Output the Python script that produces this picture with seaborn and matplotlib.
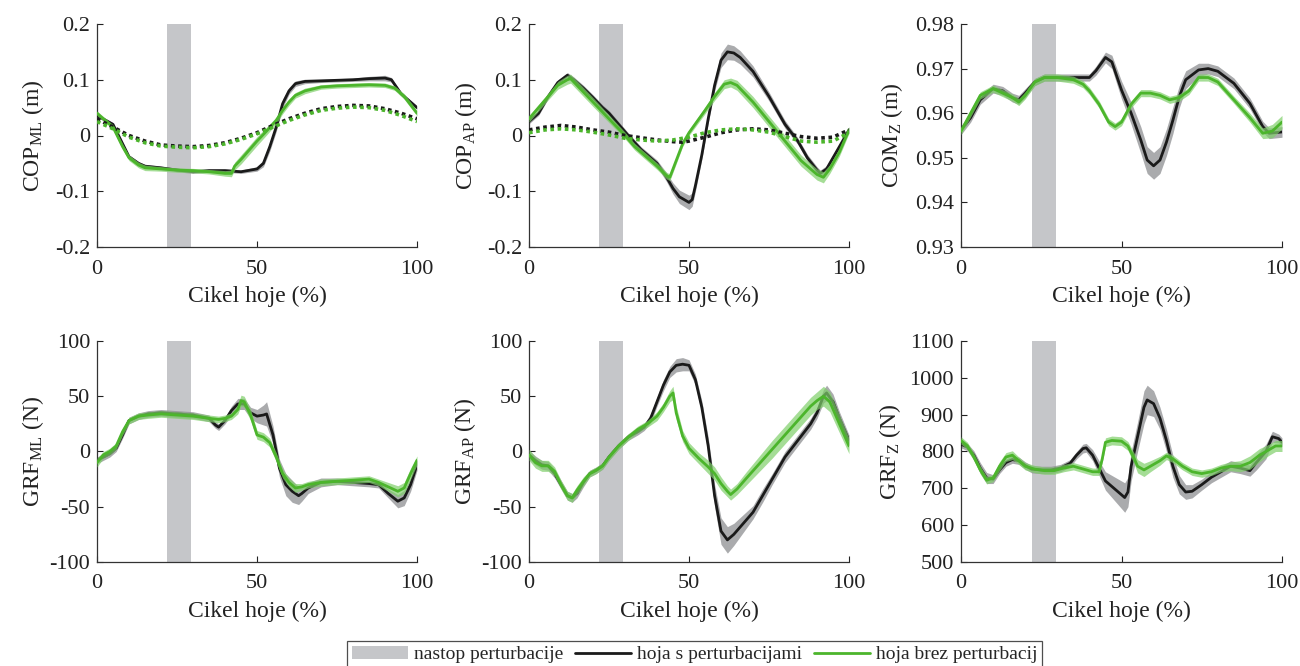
import numpy as np
import matplotlib
matplotlib.use("Agg")
import matplotlib.pyplot as plt
import seaborn as sns
from matplotlib.patches import Patch
from matplotlib.lines import Line2D

# ---------------- data ----------------
pert_start, pert_end = 22, 29.5

# COP ML
copml_px = [0,5,10,13,15,20,25,30,35,40,45,50,52,54,56,58,60,62,65,70,75,80,85,90,92,95,100]
copml_p = [0.036,0.02,-0.038,-0.05,-0.055,-0.058,-0.062,-0.065,-0.063,-0.063,-0.065,-0.06,-0.05,-0.02,0.015,0.057,0.08,0.093,0.097,0.098,0.099,0.1,0.102,0.103,0.1,0.075,0.05]
copml_p_sd = [0.003,0.003,0.003,0.003,0.003,0.003,0.003,0.003,0.003,0.003,0.003,0.004,0.006,0.008,0.008,0.008,0.006,0.005,0.004,0.003,0.003,0.003,0.004,0.005,0.004,0.003,0.003]
copml_nx = [0,5,8,10,13,15,20,25,30,35,40,42,43,45,50,53,56,58,60,62,65,70,75,80,85,90,93,96,100]
copml_n = [0.04,0.015,-0.02,-0.04,-0.053,-0.058,-0.06,-0.062,-0.063,-0.065,-0.068,-0.068,-0.055,-0.043,-0.01,0.008,0.027,0.045,0.06,0.072,0.08,0.087,0.089,0.09,0.091,0.09,0.085,0.07,0.04]
copml_n_sd = [0.004,0.004,0.005,0.005,0.005,0.005,0.004,0.004,0.004,0.004,0.005,0.006,0.007,0.008,0.008,0.007,0.006,0.006,0.006,0.005,0.005,0.004,0.004,0.004,0.004,0.004,0.004,0.005,0.005]
copml_dx = [0,5,10,15,20,25,30,35,40,45,50,55,60,65,70,75,80,85,90,95,100]
copml_dp = [0.03,0.015,0.0,-0.01,-0.017,-0.019,-0.02,-0.018,-0.013,-0.005,0.005,0.018,0.03,0.04,0.048,0.052,0.054,0.053,0.048,0.04,0.03]
copml_dn = [0.025,0.012,-0.003,-0.013,-0.019,-0.021,-0.022,-0.02,-0.015,-0.007,0.003,0.015,0.027,0.037,0.045,0.049,0.051,0.05,0.045,0.036,0.025]

# COP AP
copap_px = [0,3,6,9,12,14,17,20,23,25,28,31,35,40,43,45,47,50,51,52,54,56,58,60,62,64,66,70,75,80,84,87,90,91,93,96,100]
copap_p = [0.025,0.04,0.07,0.095,0.108,0.1,0.085,0.068,0.05,0.04,0.02,0.0,-0.025,-0.05,-0.075,-0.095,-0.11,-0.12,-0.115,-0.09,-0.035,0.03,0.09,0.135,0.15,0.148,0.14,0.115,0.07,0.02,-0.01,-0.04,-0.062,-0.068,-0.06,-0.03,0.01]
copap_p_sd = [0.004,0.004,0.004,0.005,0.005,0.005,0.005,0.005,0.005,0.005,0.005,0.005,0.005,0.006,0.008,0.01,0.012,0.013,0.012,0.01,0.008,0.008,0.01,0.013,0.014,0.013,0.012,0.01,0.008,0.007,0.006,0.006,0.006,0.006,0.006,0.005,0.005]
copap_nx = [0,3,6,9,12,13,15,20,25,30,33,35,40,43,44,45,48,50,55,58,61,63,65,70,75,80,85,90,92,94,97,100]
copap_n = [0.03,0.05,0.07,0.09,0.1,0.102,0.09,0.06,0.03,0.0,-0.02,-0.03,-0.055,-0.072,-0.075,-0.06,-0.015,0.005,0.045,0.07,0.092,0.095,0.09,0.06,0.025,-0.01,-0.045,-0.07,-0.075,-0.06,-0.03,0.01]
copap_n_sd = [0.006,0.006,0.006,0.007,0.008,0.008,0.008,0.008,0.007,0.006,0.006,0.006,0.006,0.006,0.006,0.006,0.005,0.005,0.006,0.007,0.008,0.008,0.009,0.01,0.01,0.01,0.01,0.01,0.01,0.008,0.007,0.006]
copap_dx = [0,5,10,15,20,25,30,35,40,45,48,50,55,60,65,70,75,80,85,90,95,100]
copap_dp = [0.01,0.015,0.018,0.015,0.01,0.006,0.0,-0.004,-0.008,-0.011,-0.012,-0.01,-0.003,0.005,0.01,0.012,0.01,0.004,-0.002,-0.005,-0.003,0.01]
copap_dn = [0.005,0.01,0.012,0.01,0.006,0.001,-0.005,-0.008,-0.01,-0.008,-0.005,-0.003,0.005,0.01,0.012,0.01,0.006,-0.002,-0.01,-0.012,-0.01,0.005]

# COM Z
comz_px = [0,3,6,10,13,16,18,20,23,26,30,35,40,42,45,47,50,53,56,58,60,62,64,66,68,70,74,77,80,85,90,94,96,100]
comz_p = [0.9562,0.959,0.963,0.9655,0.965,0.9635,0.963,0.9645,0.967,0.968,0.968,0.968,0.968,0.9695,0.9725,0.9715,0.9652,0.96,0.954,0.9495,0.9482,0.9495,0.9535,0.9584,0.9637,0.9675,0.9697,0.97,0.9694,0.9667,0.9622,0.957,0.9555,0.9558]
comz_p_sd = [0.001,0.001,0.001,0.001,0.001,0.001,0.001,0.001,0.0008,0.0008,0.0008,0.0008,0.0008,0.001,0.0012,0.0015,0.002,0.0025,0.003,0.003,0.003,0.003,0.003,0.003,0.0025,0.002,0.0015,0.0012,0.0012,0.0012,0.0012,0.0012,0.0012,0.0012]
comz_nx = [0,3,6,10,13,16,18,20,23,26,30,35,38,40,43,46,48,50,53,56,59,62,65,68,71,74,77,80,85,90,94,97,100]
comz_n = [0.956,0.96,0.964,0.9655,0.9645,0.9635,0.9625,0.964,0.967,0.968,0.968,0.9675,0.9665,0.965,0.962,0.958,0.957,0.958,0.962,0.9645,0.9645,0.964,0.963,0.9635,0.965,0.968,0.968,0.967,0.963,0.959,0.9555,0.956,0.958]
comz_n_sd = [0.0008,0.0008,0.0008,0.0008,0.0008,0.0008,0.0008,0.0008,0.0008,0.0008,0.0008,0.0008,0.0008,0.0008,0.0008,0.0008,0.0008,0.0008,0.0008,0.0008,0.0008,0.0008,0.0008,0.0008,0.0008,0.0008,0.0008,0.0008,0.0008,0.001,0.0012,0.0015,0.0015]

# GRF ML
grfml_px = [0,2,4,6,8,10,13,16,20,25,30,35,37,38,40,42,44,46,48,50,52,53,55,57,59,61,63,64,66,70,75,80,85,88,91,94,96,98,100]
grfml_p = [-8,-5,-2,3,15,28,32,34,35,34,33,30,24,22,28,37,43,43,35,32,33,34,15,-15,-30,-36,-40,-38,-33,-28,-27,-28,-29,-30,-38,-45,-42,-30,-12]
grfml_p_sd = [3,3,3,3,3,3,3,3,3,3,3,3,3,3,3,4,5,5,5,6,9,11,8,8,10,10,8,7,5,4,3,3,3,3,4,6,7,6,5]
grfml_nx = [0,2,4,6,8,10,13,16,20,25,30,35,38,40,42,44,45,46,48,50,52,54,56,58,60,62,64,66,70,75,80,85,88,91,94,96,98,100]
grfml_n = [-10,-3,0,5,18,28,32,33,34,33,32,30,29,30,32,38,46,45,33,15,13,8,-5,-20,-28,-33,-32,-30,-28,-27,-26,-25,-28,-32,-36,-33,-20,-8]
grfml_n_sd = [4,3,3,3,3,3,3,3,3,3,3,3,3,3,3,4,5,5,5,4,4,4,4,4,4,4,3,3,3,3,3,3,3,4,5,5,5,4]

# GRF AP
grfap_px = [0,2,4,6,8,10,12,13.5,15,17,19,21,23,25,28,31,34,36,38,40,42,44,46,48,50,52,54,56,58,60,62,64,67,70,73,76,80,84,88,90,92,93,95,97,100]
grfap_p = [-3,-8,-12,-13,-20,-30,-40,-42,-38,-28,-20,-17,-13,-5,5,13,18,22,30,45,60,72,78,79,78,65,40,5,-40,-72,-80,-75,-65,-55,-40,-25,-5,10,25,35,50,53,45,30,10]
grfap_p_sd = [4,4,4,4,4,4,4,4,4,4,3,3,3,3,3,3,3,3,4,4,5,5,6,6,5,5,6,8,10,12,12,10,8,6,6,5,5,5,5,5,6,7,7,6,5]
grfap_nx = [0,2,4,6,8,10,12,13.5,15,17,19,21,23,25,28,31,34,37,40,42,44,45,46,48,50,53,56,58,60,62,63,65,68,72,76,80,84,88,90,92,94,97,100]
grfap_n = [-3,-10,-13,-13,-18,-30,-40,-42,-35,-27,-20,-17,-13,-5,5,13,20,25,32,40,50,53,35,14,3,-6,-14,-20,-29,-36,-39,-34,-24,-11,2,15,28,41,46,50,45,25,5]
grfap_n_sd = [5,5,5,5,4,4,4,4,4,4,3,3,3,3,3,3,3,3,4,4,5,6,6,5,5,5,6,6,6,5,5,5,6,7,8,8,8,8,8,9,9,8,7]

# GRF Z
grfz_px = [0,2,4,6,8,10,12,14,16,18,20,22,25,28,31,34,36,38,39,41,43,45,47,49,51,52,53,55,57,58,60,62,64,66,68,70,72,75,78,81,84,87,90,92,95,97,99,100]
grfz_p = [820,812,790,755,728,725,750,770,778,775,762,752,750,750,755,768,790,808,810,790,755,720,705,690,675,690,760,840,920,940,930,890,830,760,710,690,692,710,730,745,760,755,748,770,800,840,835,825]
grfz_p_sd = [10,10,12,15,15,12,10,10,10,10,10,10,10,10,10,10,10,12,12,15,20,25,30,35,40,40,40,40,45,40,35,30,30,30,25,20,18,15,15,15,15,15,15,20,20,15,12,12]
grfz_nx = [0,2,4,6,8,10,12,14,16,18,20,23,26,29,32,35,37,39,41,43,44,45,47,50,52,54,55,57,59,62,64,66,69,72,75,78,81,84,87,90,93,96,98,100]
grfz_n = [830,815,785,750,722,728,760,785,790,775,760,752,748,748,755,760,755,750,745,745,780,825,830,828,815,780,760,750,760,775,788,780,760,745,740,745,755,760,760,770,790,805,815,815]
grfz_n_sd = [10,10,10,10,10,10,12,12,12,10,10,10,10,10,10,10,10,10,10,10,10,12,12,12,12,15,18,18,15,12,10,10,10,10,10,10,10,12,15,18,18,15,15,15]

ylabels = ['COP$_{ML}$ (m)', 'COP$_{AP}$ (m)', 'COM$_{Z}$ (m)',
           'GRF$_{ML}$ (N)', 'GRF$_{AP}$ (N)', 'GRF$_{Z}$ (N)']
yticks_list = [[-0.2, -0.1, 0, 0.1, 0.2], [-0.2, -0.1, 0, 0.1, 0.2],
               [0.93, 0.94, 0.95, 0.96, 0.97, 0.98],
               [-100, -50, 0, 50, 100], [-100, -50, 0, 50, 100],
               [500, 600, 700, 800, 900, 1000, 1100]]
yticklabels_list = [['-0.2', '-0.1', '0', '0.1', '0.2'], ['-0.2', '-0.1', '0', '0.1', '0.2'],
                    ['0.93', '0.94', '0.95', '0.96', '0.97', '0.98'],
                    ['-100', '-50', '0', '50', '100'], ['-100', '-50', '0', '50', '100'],
                    ['500', '600', '700', '800', '900', '1000', '1100']]
xticks = [0, 50, 100]
xlabel = 'Cikel hoje (%)'
legend_labels = ['nastop perturbacije', 'hoja s perturbacijami', 'hoja brez perturbacij']

# ---------------- style ----------------
sns.set_theme(style='white')
plt.rcParams['font.family'] = ['Liberation Serif', 'DejaVu Serif']
plt.rcParams['mathtext.default'] = 'regular'
plt.rcParams['axes.unicode_minus'] = False

BLACK = '#1a1a1a'
GREEN = '#4cb52c'
BAND_BLACK = '#8e8f92'
BAND_GREEN = '#7fcf6a'
PERT = '#c5c6c9'

fig = plt.figure(figsize=(13, 6.66), dpi=100)
W, H = 1300, 666
cols = [(97, 417), (529, 849), (961, 1282)]
rows = [(24, 247), (341, 562)]

panels = [
    (copml_px, copml_p, copml_p_sd, copml_nx, copml_n, copml_n_sd, (copml_dx, copml_dp, copml_dn)),
    (copap_px, copap_p, copap_p_sd, copap_nx, copap_n, copap_n_sd, (copap_dx, copap_dp, copap_dn)),
    (comz_px, comz_p, comz_p_sd, comz_nx, comz_n, comz_n_sd, None),
    (grfml_px, grfml_p, grfml_p_sd, grfml_nx, grfml_n, grfml_n_sd, None),
    (grfap_px, grfap_p, grfap_p_sd, grfap_nx, grfap_n, grfap_n_sd, None),
    (grfz_px, grfz_p, grfz_p_sd, grfz_nx, grfz_n, grfz_n_sd, None),
]
ylabel_x = [-0.16, -0.155, -0.175, -0.16, -0.16, -0.18]

for i, (px, p, psd, nx, n, nsd, dotted) in enumerate(panels):
    r, c = divmod(i, 3)
    x0, x1 = cols[c]
    yt, yb = rows[r]
    ax = fig.add_axes([x0 / W, 1 - yb / H, (x1 - x0) / W, (yb - yt) / H])
    yt_vals = yticks_list[i]
    ax.axvspan(pert_start, pert_end, color=PERT, lw=0, zorder=1)

    px_a, p_a, psd_a = np.array(px), np.array(p), np.array(psd)
    nx_a, n_a, nsd_a = np.array(nx), np.array(n), np.array(nsd)
    ax.fill_between(px_a, p_a - psd_a, p_a + psd_a, color=BAND_BLACK, alpha=0.75, lw=0, zorder=2)
    sns.lineplot(x=px_a, y=p_a, ax=ax, color=BLACK, linewidth=2.0, zorder=3)
    ax.fill_between(nx_a, n_a - nsd_a, n_a + nsd_a, color=BAND_GREEN, alpha=0.7, lw=0, zorder=4)
    sns.lineplot(x=nx_a, y=n_a, ax=ax, color=GREEN, linewidth=2.0, zorder=5)
    if dotted is not None:
        dx, dp, dn = dotted
        sns.lineplot(x=dx, y=dp, ax=ax, color=BLACK, linewidth=2.6, linestyle=(0, (1, 1)), zorder=6)
        sns.lineplot(x=dx, y=dn, ax=ax, color=GREEN, linewidth=2.6, linestyle=(0, (1, 1)), zorder=6)

    ax.set_xlim(0, 100)
    ax.set_ylim(yt_vals[0], yt_vals[-1])
    ax.set_xticks(xticks)
    ax.set_xticklabels([str(t) for t in xticks])
    ax.set_yticks(yt_vals)
    ax.set_yticklabels(yticklabels_list[i])
    ax.tick_params(direction='in', length=4, width=0.8, colors='#222222', labelsize=16,
                   pad=6, left=True, bottom=True)
    ax.tick_params(axis='x', pad=9)
    ax.tick_params(axis='y', pad=5)
    for s in ['top', 'right']:
        ax.spines[s].set_visible(False)
    for s in ['left', 'bottom']:
        ax.spines[s].set_color('#333333')
        ax.spines[s].set_linewidth(0.9)
    ax.set_xlabel(xlabel, fontsize=17, color='#222222', labelpad=5)
    ax.set_ylabel(ylabels[i], fontsize=17, color='#222222')
    ax.yaxis.set_label_coords(ylabel_x[i], 0.5)
    ax.set_facecolor('white')
    ax.grid(False)

handles = [Patch(facecolor=PERT, edgecolor='none'),
           Line2D([], [], color=BLACK, lw=2),
           Line2D([], [], color=GREEN, lw=2)]
leg = fig.legend(handles, legend_labels, loc='upper left',
                 bbox_to_anchor=(347 / W, 1 - 641 / H), borderaxespad=0.0, ncol=3, fontsize=14,
                 frameon=True, fancybox=False, edgecolor='#222222', handlelength=2.9,
                 handletextpad=0.3, columnspacing=0.6, borderpad=0.25)
leg.get_frame().set_linewidth(0.9)

fig.savefig('out.png', dpi=100, facecolor='white')
